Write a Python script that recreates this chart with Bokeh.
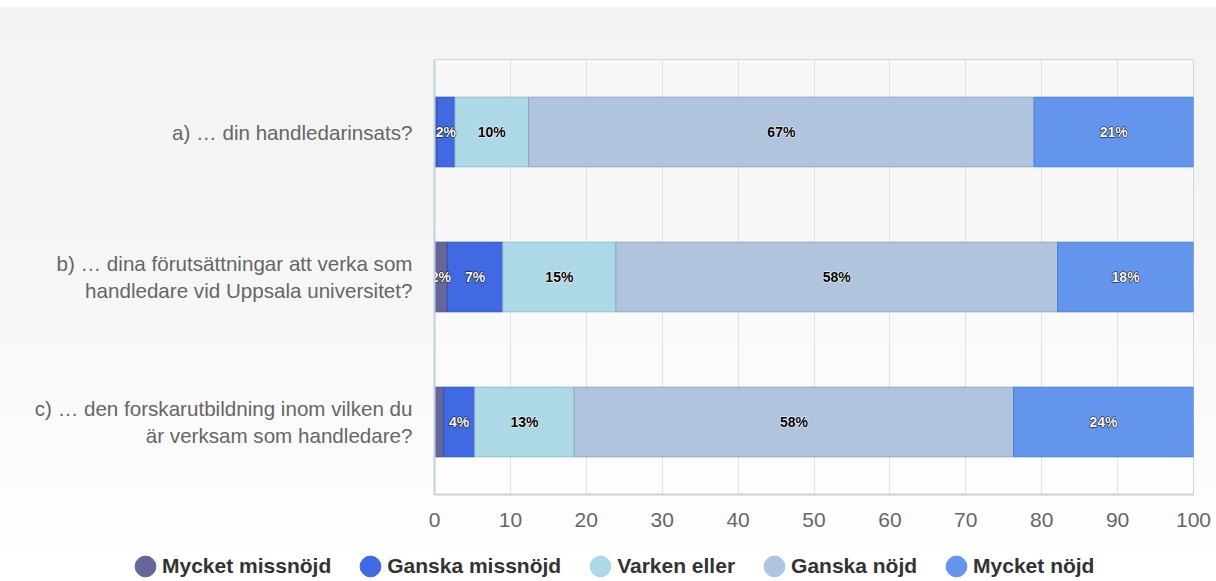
import numpy as np
from bokeh.plotting import figure
from bokeh.layouts import column
from bokeh.models import (ColumnDataSource, FactorRange, Range1d, FixedTicker,
                          Legend, LegendItem)
from bokeh.core.properties import value
from bokeh.embed import file_html
from bokeh.resources import INLINE

# ---------------- data ----------------
questions = [
    "a) … din handledarinsats?",
    "b) … dina förutsättningar att verka som\nhandledare vid Uppsala universitet?",
    "c) … den forskarutbildning inom vilken du\när verksam som handledare?",
]
series_names = ["Mycket missnöjd", "Ganska missnöjd", "Varken eller", "Ganska nöjd", "Mycket nöjd"]
mycket_missnojd = [0.3, 1.7, 1.2]
ganska_missnojd = [2.4, 7.3, 4.1]
varken_eller = [9.7, 14.9, 13.1]
ganska_nojd = [66.6, 58.2, 57.9]
mycket_nojd = [21.0, 17.9, 23.7]
x_ticks = [0, 10, 20, 30, 40, 50, 60, 70, 80, 90, 100]

# ---------------- style ----------------
FONT = "Liberation Sans"
fill_colors = ["#666699", "#4169E1", "#ADD8E6", "#B0C4DE", "#6495ED"]
line_colors = ["#4f4f80", "#2c52c4", "#8fbccb", "#8fa6c4", "#4a7ed8"]
dark_fill = [True, True, False, False, True]

all_series = [mycket_missnojd, ganska_missnojd, varken_eller, ganska_nojd, mycket_nojd]
keys = ["s%d" % i for i in range(len(all_series))]

src = {"question": questions}
for k, vals in zip(keys, all_series):
    src[k] = vals
source = ColumnDataSource(src)

# label positions derived from the data (segment midpoints)
lab = {True: dict(x=[], y=[], t=[]), False: dict(x=[], y=[], t=[])}
for qi, q in enumerate(questions):
    start = 0.0
    for si, vals in enumerate(all_series):
        v = vals[qi]
        if v >= 1.5:
            d = lab[dark_fill[si]]
            d["x"].append(start + v / 2.0)
            d["y"].append(q)
            d["t"].append("%d%%" % int(round(v)))
        start += v

MAIN_H = 532
p = figure(width=1216, height=MAIN_H,
           y_range=FactorRange(factors=questions[::-1], range_padding=0),
           x_range=Range1d(0, 100),
           output_backend="svg", toolbar_location=None,
           min_border_left=434, min_border_right=23,
           min_border_top=59, min_border_bottom=MAIN_H - 59 - 435)

p.border_fill_color = None
p.background_fill_color = "white"
p.background_fill_alpha = 0.35
p.outline_line_color = "#d6d6d6"

p.hbar_stack(keys, y="question", height=0.48, source=source,
             fill_color=fill_colors, line_color=line_colors, line_width=1)

# data labels: halo layer, then text layer on top
for is_dark, d in lab.items():
    ds = ColumnDataSource(d)
    halo = "black" if is_dark else "white"
    fg = "white" if is_dark else "black"
    common = dict(x="x", y="y", text="t", source=ds, text_font=value(FONT),
                  text_font_style="bold", text_font_size="14px",
                  text_align="center", text_baseline="middle")
    p.text(text_color=halo, text_outline_color=halo, **common)
    p.text(text_color=fg, **common)

# axes
p.xaxis.ticker = FixedTicker(ticks=x_ticks)
p.xgrid.ticker = FixedTicker(ticks=x_ticks)
p.xgrid.grid_line_color = "#e3e3e3"
p.ygrid.grid_line_color = None
p.xaxis.axis_line_color = "#cfcfcf"
p.xaxis.axis_line_width = 2
p.xaxis.major_tick_line_color = None
p.xaxis.minor_tick_line_color = None
p.xaxis.major_label_text_font = FONT
p.xaxis.major_label_text_font_size = "21px"
p.xaxis.major_label_text_color = "#666666"
p.xaxis.major_label_standoff = 12

p.yaxis.axis_line_color = "#c0d0e0"
p.yaxis.axis_line_width = 2
p.yaxis.major_tick_line_color = None
p.yaxis.minor_tick_line_color = None
p.yaxis.major_label_text_font = FONT
p.yaxis.major_label_text_font_size = "20.6px"
p.yaxis.major_label_text_color = "#666666"
p.yaxis.major_label_text_line_height = 1.17
p.yaxis.major_label_standoff = 16

# ---------------- legend strip ----------------
LEG_H = 581 - MAIN_H
leg = figure(width=1216, height=LEG_H, x_range=Range1d(0, 1), y_range=Range1d(0, 1),
             output_backend="svg", toolbar_location=None,
             min_border=0, outline_line_color=None)
leg.frame_align = False
leg.axis.visible = False
leg.grid.visible = False
leg.border_fill_color = None
leg.background_fill_color = None

# round legend swatches: circular ellipse renderers kept outside the visible range
items = []
for name, c in zip(series_names, fill_colors):
    r = leg.ellipse(x=[-5], y=[0.5], width=10, height=10,
                    width_units="screen", height_units="screen",
                    fill_color=c, line_color=c)
    items.append(LegendItem(label=name, renderers=[r]))

legend = Legend(items=items, location=(132, 2), orientation="horizontal",
                glyph_width=26, glyph_height=26, label_standoff=4, spacing=26,
                padding=0, margin=0, border_line_color=None, background_fill_alpha=0,
                label_text_font=FONT, label_text_font_style="bold",
                label_text_font_size="21px", label_text_color="#333333",
                label_height=24)
leg.add_layout(legend, "center")

page = column(p, leg, spacing=0)
page.styles = {"background": "linear-gradient(to bottom, #ffffff 0px, #ffffff 7px, "
                             "#f3f3f3 7px, #f5f5f5 40%, #ffffff 100%)"}

open("out.html", "w").write(file_html(page, INLINE))
